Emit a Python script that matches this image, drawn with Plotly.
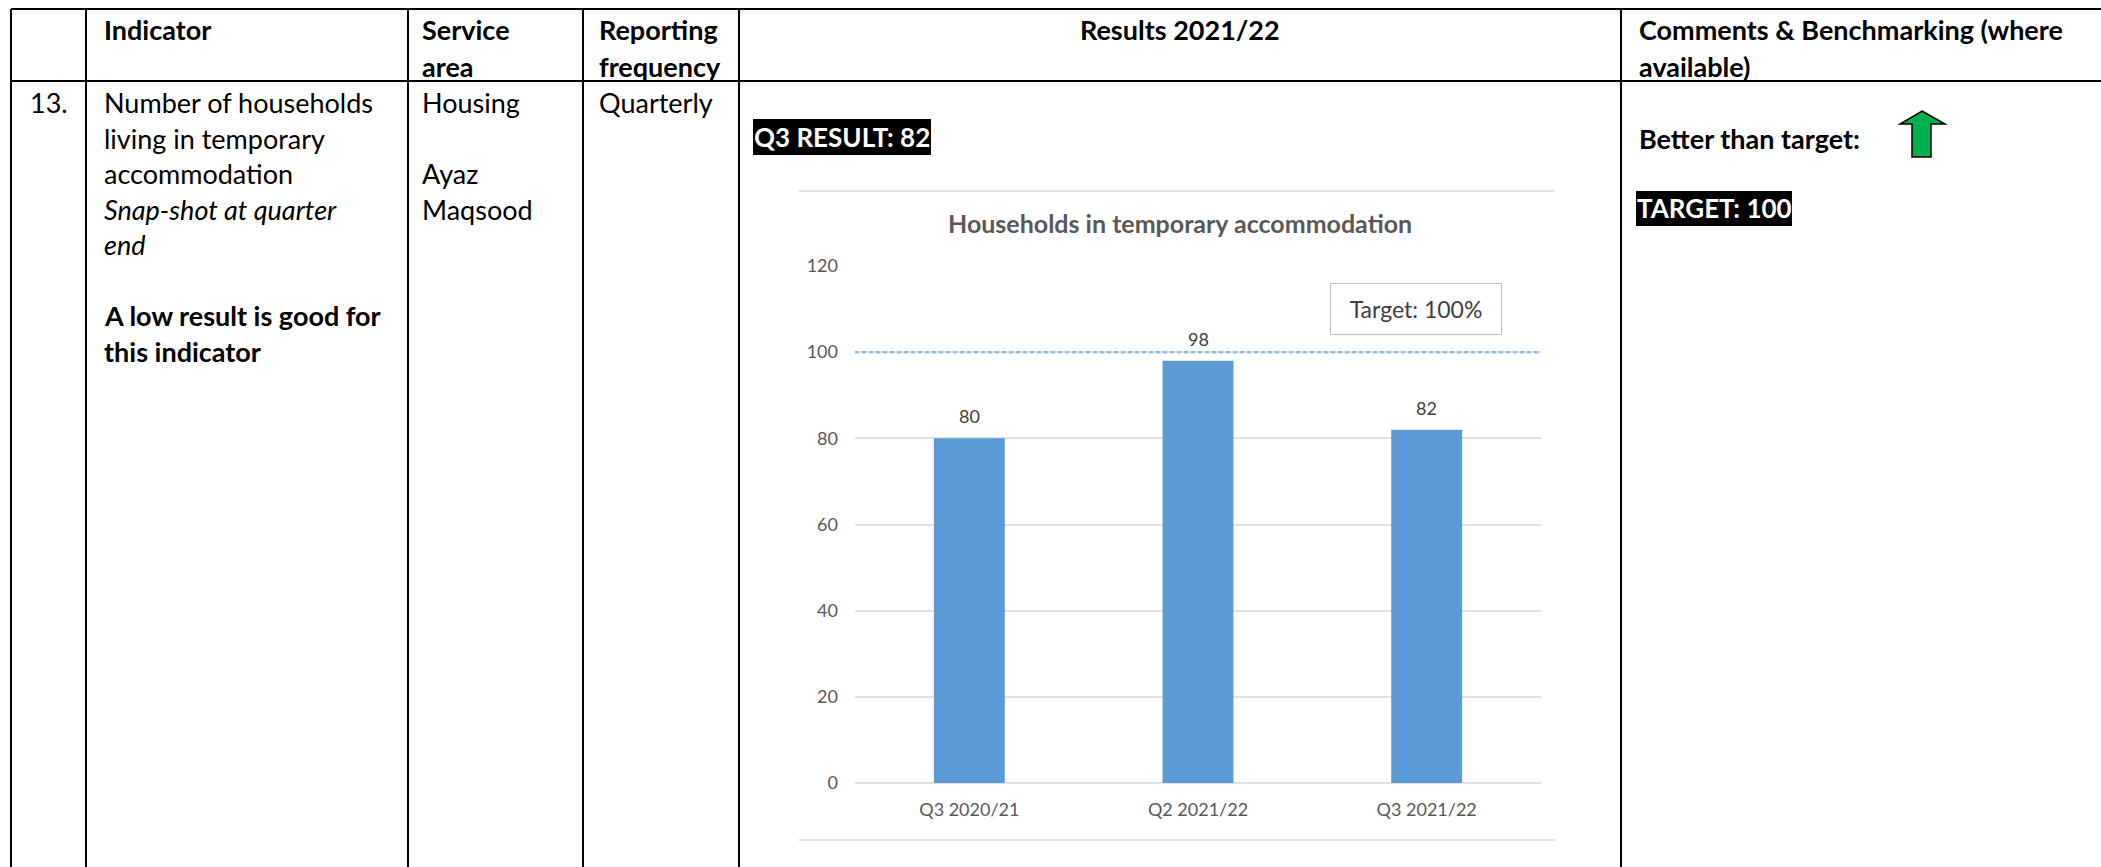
import plotly.graph_objects as go

# ---- data ----
categories = ["Q3 2020/21", "Q2 2021/22", "Q3 2021/22"]
households = [80, 98, 82]
target_value = 100
y_ticks = [0, 20, 40, 60, 80, 100, 120]

q3_result = households[-1]

W, H = 2101, 867


def px(x):
    return x / W


def py(y):
    return 1 - y / H


FONT = "Lato"
fig = go.Figure()

# ---- bar chart ----
fig.add_trace(go.Bar(
    x=categories, y=households,
    marker=dict(color="#5B9BD5", line=dict(width=0)),
    width=0.31, hoverinfo="skip",
))

for c, v in zip(categories, households):
    fig.add_annotation(x=c, y=v, xref="x", yref="y", text=str(v),
                       showarrow=False, yanchor="bottom", yshift=9,
                       font=dict(family=FONT, size=18, color="#404040"))

# target line
fig.add_shape(type="line", xref="x domain", yref="y", x0=0, x1=1,
              y0=target_value, y1=target_value,
              line=dict(color="#8FBCE6", width=2.5, dash="4px,3px"))

fig.add_annotation(xref="paper", yref="paper", x=px(1416), y=py(309),
                   text="Target: 100%", showarrow=False,
                   xanchor="center", yanchor="middle",
                   width=162, height=42, borderpad=4,
                   bordercolor="#BFBFBF", borderwidth=1, bgcolor="white",
                   font=dict(family=FONT, size=23, color="#404040"))

fig.add_annotation(xref="paper", yref="paper", x=px(1180), y=py(223),
                   text="<b>Households in temporary accommodation</b>",
                   showarrow=False, xanchor="center", yanchor="middle",
                   font=dict(family=FONT, size=25, color="#595959"))

# chart frame lines
for yy in (191, 840):
    fig.add_shape(type="line", xref="paper", yref="paper",
                  x0=px(799), x1=px(1555), y0=py(yy), y1=py(yy),
                  line=dict(color="#E3E3E3", width=2))

# ---- table grid ----
grid = dict(color="black", width=2)
fig.add_shape(type="line", xref="paper", yref="paper", x0=px(11), x1=1,
              y0=py(9), y1=py(9), line=grid)
fig.add_shape(type="line", xref="paper", yref="paper", x0=px(11), x1=1,
              y0=py(81), y1=py(81), line=grid)
for xx in (11, 86, 408, 583, 739, 1621):
    fig.add_shape(type="line", xref="paper", yref="paper", x0=px(xx), x1=px(xx),
                  y0=py(9), y1=0, line=grid)


def text(x, y, s, size=27, anchor="left", color="black"):
    fig.add_annotation(xref="paper", yref="paper", x=px(x), y=py(y), text=s,
                       showarrow=False, xanchor=anchor, yanchor="middle",
                       font=dict(family=FONT, size=size, color=color))


# header row
text(102, 29, "<b>Indicator</b>")
text(420, 29, "<b>Service</b>")
text(420, 66, "<b>area</b>")
text(597, 29, "<b>Reporting</b>")
text(597, 66, "<b>frequency</b>")
text(1180, 29, "<b>Results 2021/22</b>", anchor="center")
text(1637, 29, "<b>Comments &amp; Benchmarking (where</b>")
text(1637, 66, "<b>available)</b>")

# body row
text(28, 102, "13.")
text(102, 102, "Number of households")
text(102, 138, "living in temporary")
text(102, 173, "accommodation")
text(102, 209, "<i>Snap-shot at quarter</i>")
text(102, 245, "<i>end</i>")
text(102, 316, "<b>A low result is good for</b>")
text(102, 352, "<b>this indicator</b>")
text(420, 102, "Housing")
text(420, 173, "Ayaz")
text(420, 209, "Maqsood")
text(597, 102, "Quarterly")

# highlighted result / target boxes
fig.add_shape(type="rect", xref="paper", yref="paper", x0=px(753), x1=px(931),
              y0=py(155), y1=py(119), fillcolor="black", line=dict(width=0))
text(842, 137, f"<b>Q3 RESULT: {q3_result}</b>", size=26, anchor="center",
     color="white")

text(1637, 138, "<b>Better than target:</b>")
fig.add_shape(type="rect", xref="paper", yref="paper", x0=px(1636), x1=px(1792),
              y0=py(226), y1=py(191), fillcolor="black", line=dict(width=0))
text(1714, 208, f"<b>TARGET: {target_value}</b>", size=26, anchor="center",
     color="white")

# green up arrow
pts = [(1922, 111), (1945, 124), (1931, 124), (1931, 157), (1912, 157),
       (1912, 124), (1900, 124)]
path = "M " + " L ".join(f"{px(x):.5f},{py(y):.5f}" for x, y in pts) + " Z"
fig.add_shape(type="path", xref="paper", yref="paper", path=path,
              fillcolor="#00B050", line=dict(color="black", width=1.5))

fig.update_layout(
    width=W, height=H,
    margin=dict(l=0, r=0, t=0, b=0, pad=0, autoexpand=False),
    paper_bgcolor="white", plot_bgcolor="white",
    showlegend=False, bargap=0.69,
    xaxis=dict(domain=[px(855), px(1541)], showgrid=False, showline=False,
               automargin=False, ticks="", ticklabelstandoff=14,
               tickfont=dict(family=FONT, size=18, color="#595959")),
    yaxis=dict(domain=[py(783), py(266)], range=[0, 120], tickvals=y_ticks,
               automargin=False,
               showgrid=True, gridcolor="#E0E0E0", gridwidth=1.5,
               zeroline=True, zerolinecolor="#E0E0E0", zerolinewidth=1.5,
               showline=False, ticks="", ticklabelstandoff=16,
               tickfont=dict(family=FONT, size=18, color="#595959")),
)

fig.write_html("out.html")
